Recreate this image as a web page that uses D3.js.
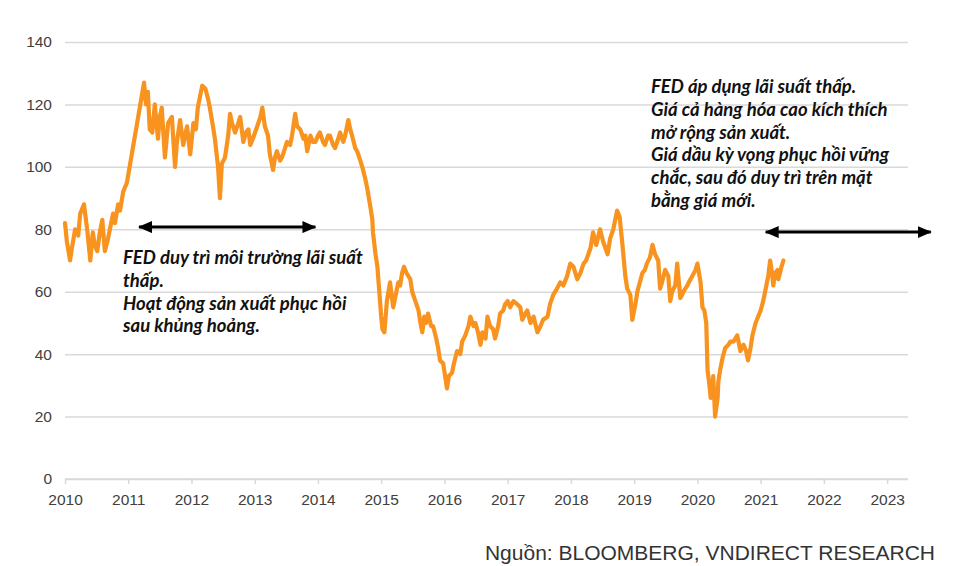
<!DOCTYPE html>
<html>
<head>
<meta charset="utf-8">
<title>Giá dầu Brent 2010-2021</title>
<script src="https://d3js.org/d3.v7.min.js"></script>
<style>
  body { margin: 0; background: #fff; }
</style>
</head>
<body>
<div id="chart"></div>
<script>

// time in decimal years, price in USD/barrel
const times = [
  2010.00, 2010.03, 2010.08, 2010.11, 2010.16, 2010.21, 2010.24, 2010.30, 2010.35, 2010.40,
  2010.44, 2010.47, 2010.51, 2010.55, 2010.59, 2010.63, 2010.68, 2010.71, 2010.76, 2010.79,
  2010.84, 2010.87, 2010.92, 2010.98,
  2011.25, 2011.28, 2011.31, 2011.34, 2011.38, 2011.42, 2011.47, 2011.50, 2011.53, 2011.58,
  2011.63, 2011.69, 2011.74, 2011.77, 2011.82, 2011.87, 2011.93, 2011.98,
  2012.03, 2012.07, 2012.10, 2012.17, 2012.22, 2012.26, 2012.29, 2012.34, 2012.37, 2012.42,
  2012.45, 2012.48, 2012.53, 2012.58, 2012.61, 2012.64, 2012.69, 2012.74, 2012.77, 2012.82,
  2012.86, 2012.90, 2012.93, 2012.97,
  2013.04, 2013.09, 2013.12, 2013.16, 2013.21, 2013.24, 2013.29, 2013.32, 2013.35, 2013.40,
  2013.43, 2013.48, 2013.51, 2013.56, 2013.59, 2013.64, 2013.67, 2013.72, 2013.77, 2013.80,
  2013.83, 2013.88, 2013.92, 2013.96,
  2014.00, 2014.03, 2014.08, 2014.11, 2014.16, 2014.19, 2014.24, 2014.27, 2014.32, 2014.35,
  2014.40, 2014.43, 2014.48, 2014.51, 2014.54, 2014.59, 2014.62, 2014.67, 2014.70, 2014.75,
  2014.78, 2014.83, 2014.86, 2014.87, 2014.91, 2014.94, 2014.97,
  2015.00, 2015.02, 2015.05, 2015.09, 2015.14, 2015.17, 2015.19, 2015.24, 2015.27, 2015.30,
  2015.33, 2015.36, 2015.40, 2015.43, 2015.46, 2015.49, 2015.54, 2015.59, 2015.62, 2015.65,
  2015.68, 2015.71, 2015.74, 2015.79, 2015.82, 2015.87, 2015.90, 2015.93, 2015.98,
  2016.01, 2016.04, 2016.07, 2016.12, 2016.15, 2016.20, 2016.25, 2016.28, 2016.33, 2016.38,
  2016.41, 2016.46, 2016.49, 2016.53, 2016.57, 2016.60, 2016.65, 2016.68, 2016.72, 2016.77,
  2016.80, 2016.85, 2016.88, 2016.93, 2016.96,
  2017.00, 2017.04, 2017.09, 2017.15, 2017.20, 2017.23, 2017.28, 2017.31, 2017.36, 2017.41,
  2017.47, 2017.52, 2017.56, 2017.63, 2017.67, 2017.72, 2017.78, 2017.83, 2017.88, 2017.94,
  2017.99,
  2018.04, 2018.10, 2018.15, 2018.20, 2018.24, 2018.31, 2018.35, 2018.40, 2018.46, 2018.51,
  2018.58, 2018.62, 2018.67, 2018.73, 2018.77, 2018.81, 2018.86, 2018.89, 2018.94, 2018.97,
  2019.02, 2019.05, 2019.09, 2019.13, 2019.17, 2019.20, 2019.25, 2019.29, 2019.33, 2019.38,
  2019.41, 2019.44, 2019.49, 2019.54, 2019.57, 2019.60, 2019.65, 2019.68, 2019.73, 2019.78,
  2019.84, 2019.89, 2019.92, 2019.97,
  2020.00, 2020.05, 2020.08, 2020.11, 2020.14, 2020.16, 2020.19, 2020.21, 2020.24, 2020.25,
  2020.28, 2020.32, 2020.33, 2020.36, 2020.40, 2020.44, 2020.49, 2020.52, 2020.57, 2020.63,
  2020.68, 2020.73, 2020.77, 2020.80, 2020.84, 2020.87, 2020.92, 2020.96,
  2021.00, 2021.04, 2021.08, 2021.12, 2021.15, 2021.18, 2021.20, 2021.23, 2021.27, 2021.28,
  2021.33, 2021.36
];

const prices = [
  82, 76, 70, 74, 80, 78, 85, 88, 80, 70,
  79, 75, 73, 79, 83, 73, 77, 80, 85, 82,
  88, 86, 92, 95,
  127, 120, 124, 112, 111, 120, 109, 116, 119, 103,
  114, 116, 100, 108, 115, 107, 113, 104,
  114, 112, 119, 126, 125, 122, 119, 113, 109, 100,
  90, 101, 103, 110, 117, 114, 111, 114, 116, 108,
  111, 112, 107, 109,
  113, 116, 119, 113, 110, 104, 99, 103, 105, 102,
  103, 106, 108, 107, 110, 117, 113, 112, 109, 110,
  105, 110, 108, 108,
  110, 111, 108, 107, 110, 110, 107, 106, 109, 111,
  108, 110, 115, 112, 110, 106, 105, 102, 100, 96,
  93, 87, 83, 79, 72, 68, 60,
  52, 48, 47, 57, 63, 58, 55, 60, 63, 62,
  66, 68, 66, 65, 64, 60, 57, 54, 50, 47,
  52, 50, 53, 49, 49, 45, 42, 38, 37,
  33, 29, 33, 34, 37, 41, 40, 44, 46, 49,
  52, 49, 50, 47, 43, 47, 45, 52, 49, 48,
  45, 49, 53, 54, 56,
  57, 55, 57, 56, 55, 51, 53, 54, 50, 52,
  47, 49, 51, 52, 56, 59, 61, 63, 62, 65,
  69,
  68, 64, 66, 69, 70, 74, 79, 75, 80, 76,
  72, 77, 80, 86, 84, 76, 65, 61, 59, 51,
  56, 60, 63, 66, 67, 69, 71, 75, 72, 70,
  61, 63, 67, 65, 57, 60, 62, 69, 58, 60,
  62, 64, 65, 67,
  69, 63, 55, 54, 50, 35, 30, 26, 30, 33,
  20, 26, 31, 35, 39, 42, 43, 44, 44, 46,
  41, 43, 41, 38, 42, 46, 50, 52,
  54, 57, 61, 65, 70, 66, 62, 66, 67, 64,
  68, 70
];

const yTicks = [0, 20, 40, 60, 80, 100, 120, 140];
const xTicks = [2010, 2011, 2012, 2013, 2014, 2015, 2016, 2017, 2018, 2019, 2020, 2021, 2022, 2023];

const noteLeft = [
  "FED duy trì môi trường lãi suất",
  "thấp.",
  "Hoạt động sản xuất phục hồi",
  "sau khủng hoảng."
];
const noteRight = [
  "FED áp dụng lãi suất thấp.",
  "Giá cả hàng hóa cao kích thích",
  "mở rộng sản xuất.",
  "Giá dầu kỳ vọng phục hồi vững",
  "chắc, sau đó duy trì trên mặt",
  "bằng giá mới."
];
const sourceText = "Nguồn: BLOOMBERG, VNDIRECT RESEARCH";

const data = times.map(function(t, i) { return {t: t, v: prices[i]}; });

// dimensions
var W = 971, H = 566;
var margin = {top: 42, right: 63, bottom: 87, left: 65},
    width = W - margin.left - margin.right,
    height = H - margin.top - margin.bottom;

var svg = d3.select("#chart")
  .append("svg")
    .attr("width", W)
    .attr("height", H)
    .style("font-family", "'Liberation Sans', Arial, sans-serif");

var g = svg.append("g")
    .attr("transform", "translate(" + margin.left + "," + margin.top + ")");

var x = d3.scaleLinear()
  .domain([2010, 2023.33])
  .range([0, width]);

var y = d3.scaleLinear()
  .domain([0, 140])
  .range([height, 0]);

// Y axis + grid
var yAxis = g.append("g")
  .call(d3.axisLeft(y).tickValues(yTicks).tickSize(-width).tickPadding(13));
yAxis.select(".domain").remove();
yAxis.selectAll(".tick line")
  .attr("stroke", "#d9d9d9")
  .attr("stroke-width", 1.5);
yAxis.selectAll(".tick text")
  .attr("fill", "#404040")
  .style("font-size", "15.5px");

// X axis
var xAxis = g.append("g")
  .attr("transform", "translate(0," + height + ")")
  .call(d3.axisBottom(x).tickValues(xTicks).tickFormat(d3.format("d")).tickSize(5).tickPadding(10));
xAxis.select(".domain")
  .attr("stroke", "#d9d9d9")
  .attr("stroke-width", 1.5)
  .attr("d", "M0,0H" + width);
xAxis.selectAll(".tick line")
  .attr("stroke", "#d9d9d9")
  .attr("stroke-width", 1.5);
xAxis.selectAll(".tick text")
  .attr("fill", "#404040")
  .style("font-size", "15.5px");

// price line
var line = d3.line()
  .x(function(d) { return x(d.t); })
  .y(function(d) { return y(d.v); });

g.append("path")
  .datum(data)
  .attr("fill", "none")
  .attr("stroke", "#f7931e")
  .attr("stroke-width", 4.2)
  .attr("stroke-linejoin", "round")
  .attr("stroke-linecap", "round")
  .attr("d", line);

// arrow heads
svg.append("defs").append("marker")
    .attr("id", "head")
    .attr("viewBox", "0 0 14 12")
    .attr("refX", 13)
    .attr("refY", 6)
    .attr("markerUnits", "userSpaceOnUse")
    .attr("markerWidth", 14)
    .attr("markerHeight", 12)
    .attr("orient", "auto-start-reverse")
  .append("path")
    .attr("d", "M0,0L14,6L0,12Z")
    .attr("fill", "#000");

function arrow(t0, t1, v) {
  g.append("line")
    .attr("x1", x(t0)).attr("x2", x(t1))
    .attr("y1", y(v)).attr("y2", y(v))
    .attr("stroke", "#000")
    .attr("stroke-width", 3)
    .attr("marker-start", "url(#head)")
    .attr("marker-end", "url(#head)");
}
arrow(2011.17, 2013.96, 80.7);
arrow(2021.08, 2023.69, 79.1);

// notes
function note(lines, px, py) {
  var t = svg.append("text")
    .attr("x", px)
    .attr("y", py)
    .attr("fill", "#111")
    .style("font-family", "Lato, 'Open Sans', sans-serif")
    .style("font-weight", "bold")
    .style("font-style", "italic")
    .style("font-size", "18.5px");
  t.selectAll("tspan")
    .data(lines)
    .enter()
    .append("tspan")
      .attr("x", px)
      .attr("dy", function(d, i) { return i == 0 ? 0 : 22.8; })
      .text(function(d) { return d; });
}
note(noteLeft, 123, 264);
note(noteRight, 651, 93);

// source
svg.append("text")
  .attr("x", 935)
  .attr("y", 560)
  .attr("text-anchor", "end")
  .attr("fill", "#333")
  .style("font-size", "21px")
  .text(sourceText);

</script>
</body>
</html>
